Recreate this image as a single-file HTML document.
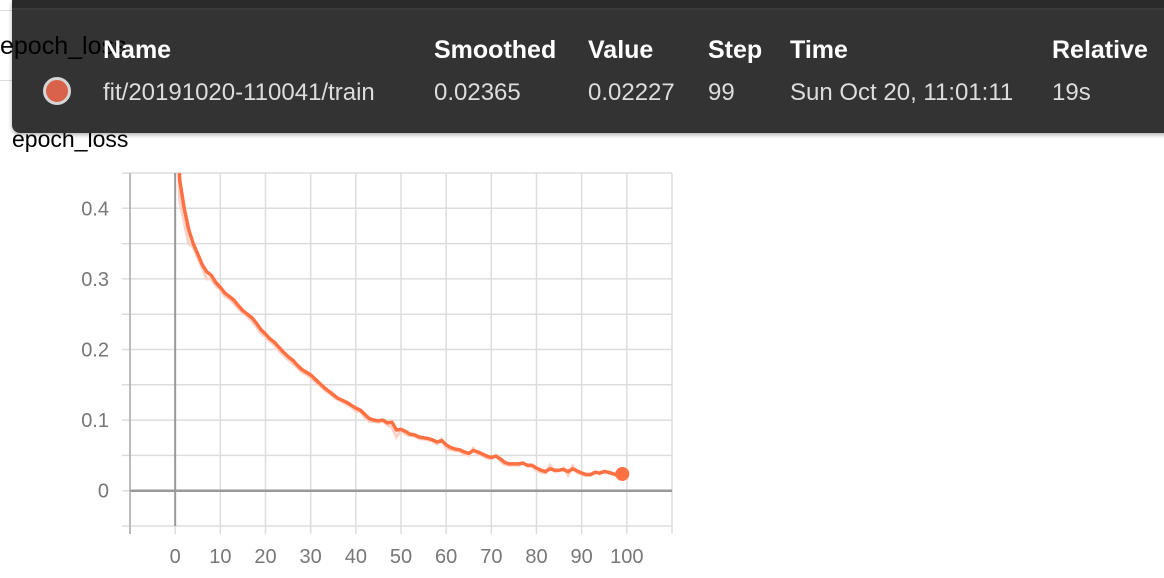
<!DOCTYPE html>
<html><head><meta charset="utf-8">
<style>
body{margin:0;width:1164px;height:578px;background:#fff;overflow:hidden;position:relative;font-family:"Liberation Sans",sans-serif}
#bgtitle{position:absolute;left:0;top:32px;font-size:25px;color:#000;white-space:nowrap;z-index:3}
#tip{position:absolute;left:12px;top:0;width:1160px;height:133px;background:#333;border-radius:0 0 0 8px;box-shadow:0 2px 4px rgba(0,0,0,.3);z-index:2}
#tipband{position:absolute;left:0;top:0;width:100%;height:8px;background:#2a2a2a;border-bottom:2px solid #3a3a3a}
.h{position:absolute;top:36px;font-weight:bold;font-size:25px;color:#fff;z-index:4}
.c{position:absolute;top:79px;font-size:24px;color:#ddd}
#dot{position:absolute;left:31px;top:77px;width:28px;height:28px;border-radius:50%;background:#d9634a;border:3px solid #d6d6d6;box-sizing:border-box}
#title{position:absolute;left:12px;top:126px;font-size:23px;color:#000}
</style></head><body>
<div style="position:absolute;left:0;top:10px;width:12px;height:1px;background:#ddd"></div>
<div style="position:absolute;left:0;top:80px;width:12px;height:1px;background:#ddd"></div>
<div id="bgtitle">epoch_loss</div>
<div id="tip">
 <div id="tipband"></div>
 <div id="dot"></div>
 <div class="c" style="left:91px">fit/20191020-110041/train</div>
 <div class="c" style="left:422px">0.02365</div>
 <div class="c" style="left:576px">0.02227</div>
 <div class="c" style="left:696px">99</div>
 <div class="c" style="left:778px">Sun Oct 20, 11:01:11</div>
 <div class="c" style="left:1040px">19s</div>
</div>
<div class="h" style="left:103px">Name</div>
<div class="h" style="left:434px">Smoothed</div>
<div class="h" style="left:588px">Value</div>
<div class="h" style="left:708px">Step</div>
<div class="h" style="left:790px">Time</div>
<div class="h" style="left:1052px">Relative</div>
<div id="title">epoch_loss</div>
<svg id="chart" width="1164" height="578" style="position:absolute;left:0;top:0;pointer-events:none"></svg>
<script>
const xTicks=[0,10,20,30,40,50,60,70,80,90,100];
const yTicks=[0,0.1,0.2,0.3,0.4];
const yTickLabels=["0","0.1","0.2","0.3","0.4"];
const smoothed=[0.6,0.44,0.40,0.37,0.35,0.335,0.32,0.31,0.305,0.295,0.288,0.28,0.275,0.27,0.262,0.255,0.25,0.245,0.237,0.228,0.222,0.215,0.21,0.203,0.196,0.19,0.185,0.178,0.172,0.168,0.164,0.158,0.152,0.146,0.141,0.136,0.131,0.128,0.125,0.121,0.117,0.114,0.108,0.102,0.10,0.099,0.10,0.096,0.097,0.086,0.087,0.084,0.08,0.079,0.076,0.075,0.074,0.072,0.069,0.071,0.065,0.061,0.059,0.058,0.055,0.053,0.057,0.055,0.052,0.049,0.047,0.049,0.045,0.04,0.038,0.038,0.038,0.039,0.036,0.036,0.032,0.029,0.027,0.031,0.029,0.029,0.030,0.027,0.031,0.028,0.025,0.023,0.023,0.026,0.025,0.027,0.026,0.024,0.022,0.0237];
const raw=[0.6,0.41,0.38,0.35,0.345,0.33,0.315,0.30,0.30,0.29,0.285,0.275,0.272,0.265,0.258,0.252,0.247,0.24,0.232,0.223,0.218,0.212,0.206,0.198,0.192,0.186,0.18,0.175,0.168,0.165,0.16,0.154,0.149,0.143,0.139,0.133,0.129,0.126,0.122,0.119,0.113,0.112,0.104,0.098,0.098,0.097,0.099,0.093,0.09,0.076,0.085,0.08,0.078,0.077,0.074,0.073,0.072,0.07,0.066,0.073,0.06,0.058,0.057,0.056,0.052,0.05,0.06,0.052,0.05,0.046,0.045,0.05,0.042,0.037,0.036,0.037,0.036,0.04,0.034,0.035,0.029,0.026,0.025,0.036,0.027,0.028,0.032,0.022,0.035,0.026,0.023,0.021,0.022,0.027,0.024,0.028,0.025,0.023,0.021,0.0223];
const NS="http://www.w3.org/2000/svg";
const svg=document.getElementById('chart');
const X0=-10,X1=110,Y0=-0.05,Y1=0.45;
const PL=130,PR=672,PT=173,PB=526;
function sx(v){return PL+(v-X0)/(X1-X0)*(PR-PL);}
function sy(v){return PB-(v-Y0)/(Y1-Y0)*(PB-PT);}
function mk(t,a){const e=document.createElementNS(NS,t);for(const k in a)e.setAttribute(k,a[k]);svg.appendChild(e);return e;}
const clip=mk('clipPath',{id:'cp'});
const r=document.createElementNS(NS,'rect');r.setAttribute('x',PL);r.setAttribute('y',PT);r.setAttribute('width',PR-PL);r.setAttribute('height',PB-PT);clip.appendChild(r);
for(let v=X0;v<=X1;v+=10){const l=mk('line',{x1:sx(v),x2:sx(v),y1:PT,y2:PB+8,stroke:'#ddd','stroke-width':1.5});

}
for(let i=0;i<=10;i++){const v=Y0+i*0.05;const l=mk('line',{x1:PL-8,x2:PR,y1:sy(v),y2:sy(v),stroke:'#ddd','stroke-width':1.5});

}
let a=mk('line',{x1:PL,x2:PL,y1:PT,y2:PB+8,stroke:'#aaa','stroke-width':1.5});


a=mk('line',{x1:sx(0),x2:sx(0),y1:PT,y2:PB,stroke:'#999','stroke-width':2});


a=mk('line',{x1:PL,x2:PR,y1:sy(0),y2:sy(0),stroke:'#999','stroke-width':2.5});


xTicks.forEach(v=>{const t=mk('text',{x:sx(v),y:563,'text-anchor':'middle','font-size':20,fill:'#777','font-family':'Liberation Sans, sans-serif'});t.textContent=v;

});
yTicks.forEach((v,i)=>{const t=mk('text',{x:109,y:sy(v)+7,'text-anchor':'end','font-size':20,fill:'#777','font-family':'Liberation Sans, sans-serif'});t.textContent=yTickLabels[i];

});
const g=mk('g',{'clip-path':'url(#cp)'});
function path(arr){return arr.map((v,i)=>(i?'L':'M')+sx(i).toFixed(1)+','+sy(v).toFixed(1)).join('');}
let p=document.createElementNS(NS,'path');p.setAttribute('d',path(raw));p.setAttribute('fill','none');p.setAttribute('stroke','#fbd3c6');p.setAttribute('stroke-width',3);g.appendChild(p);


p=document.createElementNS(NS,'path');p.setAttribute('d',path(smoothed));p.setAttribute('fill','none');p.setAttribute('stroke','#ff7043');p.setAttribute('stroke-width',3.5);p.setAttribute('stroke-linejoin','round');g.appendChild(p);


const last=smoothed.length-1;
const c=mk('circle',{cx:sx(last),cy:sy(smoothed[last]),r:7,fill:'#ff7043'});


</script>
</body></html>
